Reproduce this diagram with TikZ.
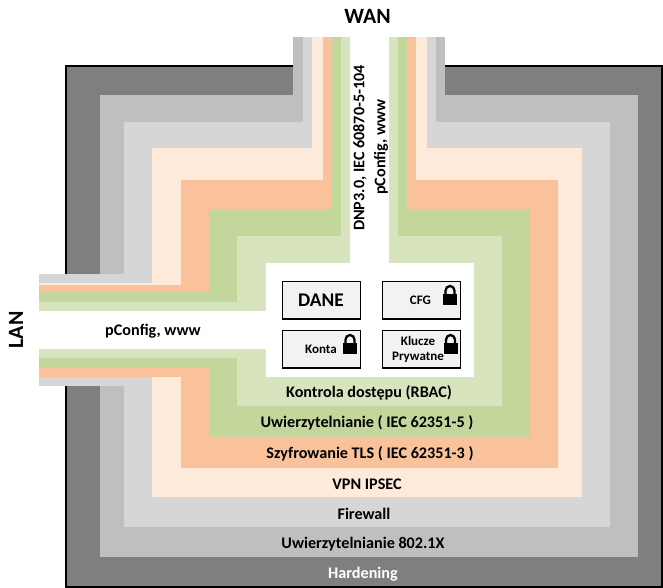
\documentclass[tikz,border=0pt]{standalone}
\usepackage{fontspec}
\setmainfont{Carlito}
\definecolor{hardgray}{HTML}{7F7F7F}
\definecolor{authgray}{HTML}{BFBFBF}
\definecolor{firegray}{HTML}{D6D6D6}
\definecolor{vpnpeach}{HTML}{FDEADA}
\definecolor{tlsorange}{HTML}{F9C29A}
\definecolor{authgreen}{HTML}{C3D69B}
\definecolor{rbacgreen}{HTML}{D8E4BD}
\tikzset{
    layertext/.style={font=\bfseries\fontsize{9.2}{10}\selectfont, text=black, inner sep=0pt},
    bigtext/.style={font=\bfseries\fontsize{12.4}{13}\selectfont, inner sep=0pt},
    smalltext/.style={font=\bfseries\fontsize{7.4}{8}\selectfont, inner sep=0pt},
    databox/.style={draw=black, line width=0.6pt, fill=black!5, minimum width=1.56cm, minimum height=0.75cm, inner sep=0pt, anchor=north west},
    lockpic/.pic={
        \fill[black] (-7, -1) rectangle (7, 10);
        \draw[black, line width=1.3pt] (-4.6, 0) -- (-4.6, -4) arc (180:360:4.6 and 5) -- (4.6, 0);
    }
}
\begin{document}
\begin{tikzpicture}[x=0.02cm, y=-0.02cm]
\useasboundingbox (0, 0) rectangle (663, 588);
\draw[fill=hardgray, line width=0.6pt] (66, 66) rectangle (662, 587);
% colour, rectangle, top tab, left tab
\foreach \col/\xa/\xb/\ya/\yb/\ta/\tb/\la/\lb in {
    authgray/100/638/95/557/293/445/274/386,
    firegray/124/610/122/527/303/436/274/386,
    vpnpeach/152/582/148/497/312/427/283/377,
    tlsorange/181/558/180/468/323/416/285/377,
    authgreen/209/530/210/437/332/407/292/368,
    rbacgreen/237/502/236/406/341/398/302/358,
    white/266/474/263/377/350/389/311/349}
    {
    \fill[\col] (\xa, \ya) rectangle (\xb, \yb);
    \fill[\col] (\ta, 37) rectangle (\tb, \ya);
    \fill[\col] (39, \la) rectangle (\xa, \lb);
    }
\node[bigtext] (wan) at (367.5, 16) {WAN};
\node[bigtext, rotate=90] (lan) at (16, 330) {LAN};
\node[layertext, rotate=90] (dnp) at (360, 148) {DNP3.0, IEC 60870-5-104};
\node[layertext, rotate=90] (pcfgwan) at (381, 147) {pConfig, www};
\node[layertext] (pcfglan) at (153, 331) {pConfig, www};
\node[layertext] (rbac) at (369, 393) {Kontrola dostępu (RBAC)};
\node[layertext] (auth) at (367, 423) {Uwierzytelnianie ( IEC 62351-5 )};
\node[layertext] (tls) at (370, 454) {Szyfrowanie TLS ( IEC 62351-3 )};
\node[layertext] (vpn) at (367, 484) {VPN IPSEC};
\node[layertext] (fw) at (364, 514) {Firewall};
\node[layertext] (dot1x) at (363, 544) {Uwierzytelnianie 802.1X};
\node[layertext, text=white] (hard) at (363, 574) {Hardening};
\node[databox] (dane) at (282, 281) {};
\node[databox] (cfg) at (382, 281) {};
\node[databox] (konta) at (282, 330) {};
\node[databox] (klucze) at (382, 330) {};
\node[bigtext, font=\bfseries\fontsize{11}{12}\selectfont] (danetxt) at (321, 300) {DANE};
\node[smalltext] (cfgtxt) at (420.5, 300) {CFG};
\node[smalltext] (kontatxt) at (321, 349) {Konta};
\node[smalltext] (kluczetxt) at (418, 341) {Klucze};
\node[smalltext] (prywtxt) at (418, 357) {Prywatne};
\pic at (450, 295) {lockpic};
\pic at (350, 344) {lockpic};
\pic at (450.5, 344) {lockpic};
\end{tikzpicture}
\end{document}
